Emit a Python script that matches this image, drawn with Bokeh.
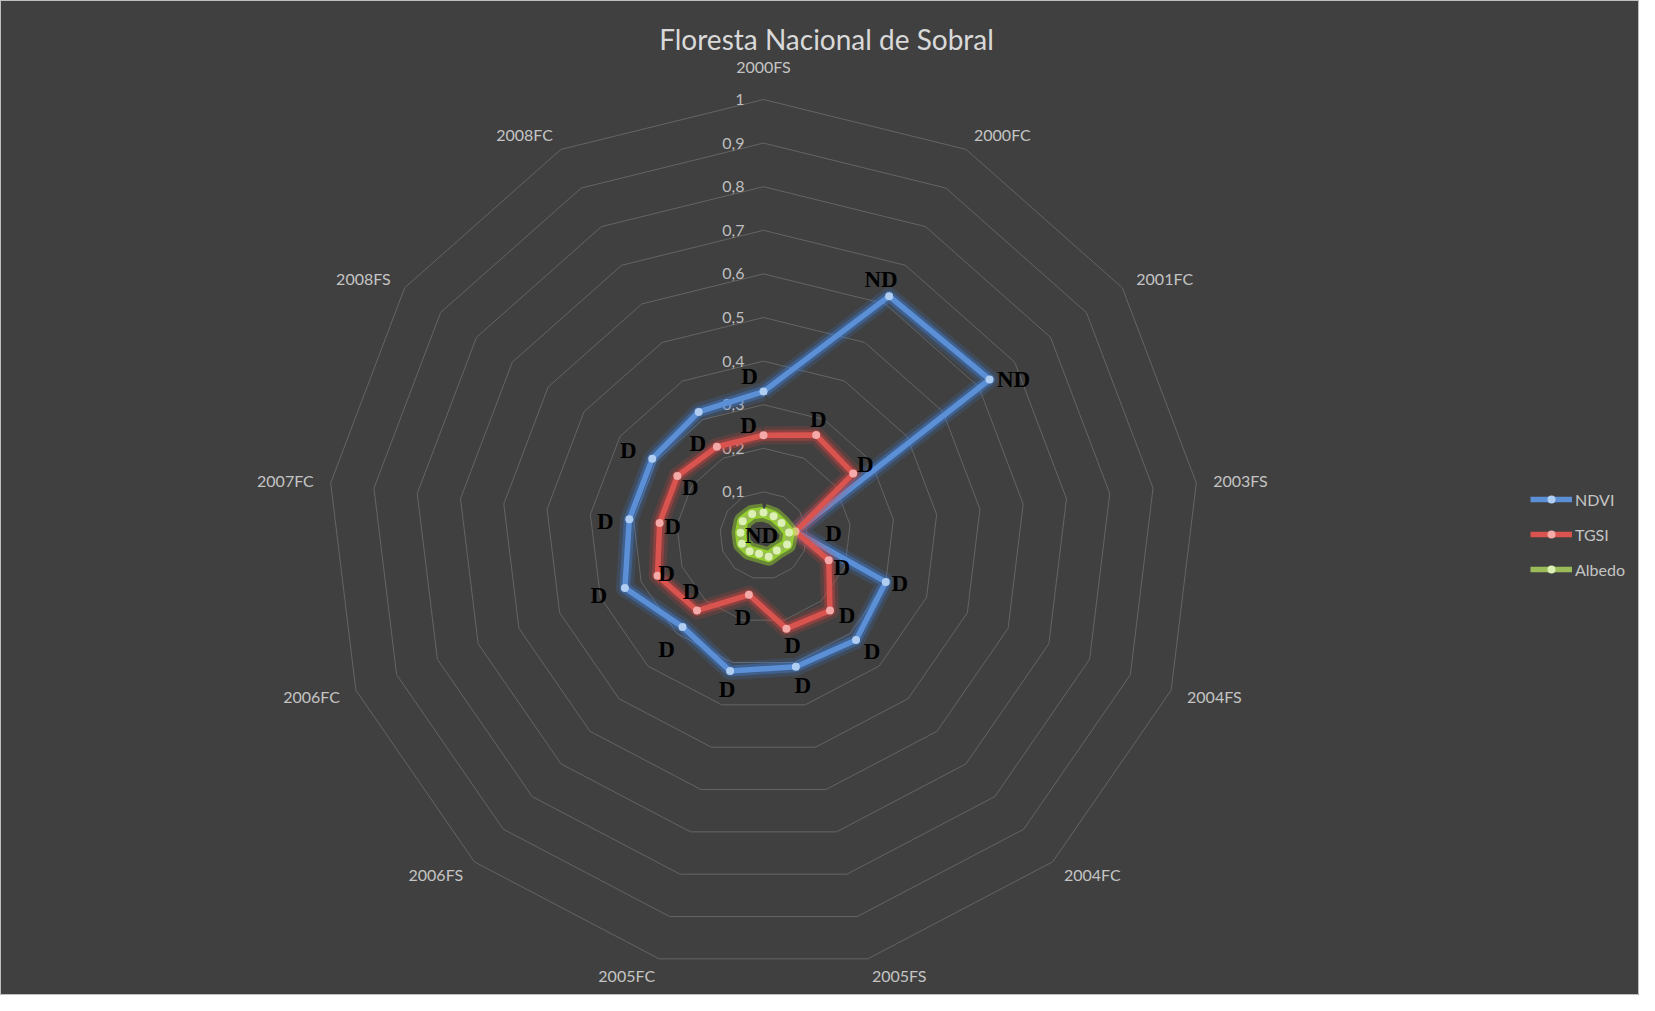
import numpy as np
from bokeh.plotting import figure
from bokeh.models import Range1d, ColumnDataSource, Label, Legend, LegendItem
from bokeh.embed import file_html
from bokeh.resources import INLINE
from bokeh.core.properties import value

# ---------------- data ----------------
categories = ["2000FS", "2000FC", "2001FC", "2003FS", "2004FS", "2004FC", "2005FS",
              "2005FC", "2006FS", "2006FC", "2007FC", "2008FS", "2008FC"]
ndvi = [0.33, 0.62, 0.63, 0.074, 0.30, 0.32, 0.31, 0.32, 0.28, 0.34, 0.31, 0.31, 0.32]
tgsi = [0.23, 0.26, 0.25, 0.074, 0.16, 0.23, 0.22, 0.14, 0.23, 0.26, 0.24, 0.24, 0.23]
albedo = [0.053, 0.050, 0.050, 0.059, 0.058, 0.046, 0.050, 0.043, 0.048, 0.053, 0.053, 0.058, 0.056]
ndvi_labels = ["D", "ND", "ND", "", "D", "D", "D", "D", "D", "D", "D", "D", ""]
tgsi_labels = ["D", "D", "D", "D", "D", "D", "D", "D", "D", "D", "D", "D", "D"]
albedo_labels = ["ND", "", "", "", "", "", "", "", "", "", "", "", ""]
tick_values = [0.1, 0.2, 0.3, 0.4, 0.5, 0.6, 0.7, 0.8, 0.9, 1.0]
tick_labels = ["0,1", "0,2", "0,3", "0,4", "0,5", "0,6", "0,7", "0,8", "0,9", "1"]
series_names = ["NDVI", "TGSI", "Albedo"]

# ---------------- layout / style ----------------
W, H = 1639, 995
CX, CY = 763, 535          # centre in figure pixels (from top-left)
S = 436.0                  # pixels per unit of value
BG = "#404040"
GRID = "#646464"

# label offsets (screen px) for the data labels, per point
ndvi_dx = [-14, -8, 24, 0, 14, 16, 7, -3, -16, -26, -24, -24, 0]
ndvi_dy = [-15, -17, 0, 0, 2, 12, 19, 19, 23, 7, 2, -8, 0]
tgsi_dx = [-15, 2, 12, 38, 13, 17, 6, -6, -6, 9, 13, 13, -19]
tgsi_dy = [-10, -16, -9, 2, 7, 5, 17, 23, -19, -2, 4, 11, -3]
albedo_dx = [-2] + [0] * 12
albedo_dy = [23] + [0] * 12

n = len(categories)
theta = np.arange(n) * 2 * np.pi / n

p = figure(width=W, height=H, output_backend="svg", toolbar_location=None,
           x_range=Range1d(-CX / S, (W - CX) / S),
           y_range=Range1d(-(H - CY) / S, CY / S),
           min_border=0, background_fill_color=BG, border_fill_color=BG)
p.axis.visible = False
p.grid.visible = False
p.outline_line_color = "#bfbfbf"
p.outline_line_width = 1

# grid polygons
gx = [list(t * np.sin(theta)) + [t * np.sin(theta[0])] for t in tick_values]
gy = [list(t * np.cos(theta)) + [t * np.cos(theta[0])] for t in tick_values]
p.multi_line(gx, gy, line_color=GRID, line_width=1)

# value axis tick labels
p.text(x=[0] * len(tick_values), y=tick_values, text=tick_labels,
       x_offset=-19, text_align="right", text_baseline="middle",
       text_font=value("Lato"), text_font_size="16px", text_color="#bdbdbd")

# category labels
sx, cy_ = np.sin(theta), np.cos(theta)
gap = np.where(cy_ > 0.95, 24.0, 17.0)
lr = 1.0 + gap / S
aligns = ["left" if s > 0.15 else ("right" if s < -0.15 else "center") for s in sx]
baselines = ["bottom" if c > 0.95 else "middle" for c in cy_]
cat_src = ColumnDataSource(dict(x=lr * sx, y=lr * cy_, text=categories,
                                align=aligns, base=baselines))
p.text(x="x", y="y", text="text", text_align="align", text_baseline="base",
       source=cat_src, text_font=value("Lato"), text_font_size="16px",
       text_color="#c4c4c4")

styles = [
    dict(vals=ndvi, color="#5b8fd6", glow="#3f86ea", marker="#b0cdf2", ga=(0.16, 0.35),
         labels=ndvi_labels, dx=ndvi_dx, dy=ndvi_dy),
    dict(vals=tgsi, color="#d9534f", glow="#e6443f", marker="#f4aaa8", ga=(0.16, 0.35),
         labels=tgsi_labels, dx=tgsi_dx, dy=tgsi_dy),
    dict(vals=albedo, color="#9bbb59", glow="#a6ee2c", marker="#dcefb4", ga=(0.4, 0.7),
         labels=albedo_labels, dx=albedo_dx, dy=albedo_dy),
]

legend_items = []
label_sources = []
for name, st in zip(series_names, styles):
    v = np.array(st["vals"])
    x = v * np.sin(theta)
    y = v * np.cos(theta)
    xc = np.append(x, x[0])
    yc = np.append(y, y[0])
    p.line(xc, yc, line_color=st["glow"], line_width=18, line_alpha=st["ga"][0], line_join="round")
    p.line(xc, yc, line_color=st["glow"], line_width=11, line_alpha=st["ga"][1], line_join="round")
    lr_ = p.line(xc, yc, line_color=st["color"], line_width=5.5, line_join="round")
    mr = p.scatter(x, y, size=8, fill_color=st["marker"], line_color=None)
    legend_items.append(LegendItem(label=name, renderers=[lr_, mr]))
    label_sources.append(ColumnDataSource(dict(x=x, y=y, text=st["labels"],
                                               dx=st["dx"], dy=st["dy"])))

for src in label_sources:
    p.text(x="x", y="y", text="text", x_offset="dx", y_offset="dy", source=src,
           text_align="center", text_baseline="middle",
           text_font=value("Liberation Serif"), text_font_style="bold",
           text_font_size="23px", text_color="#000000")

legend = Legend(items=legend_items, location=(1530, 416), orientation="vertical",
                background_fill_alpha=0, border_line_alpha=0,
                label_text_color="#c4c4c4", label_text_font="Lato",
                label_text_font_size="16px", glyph_width=42, glyph_height=20,
                label_height=20, spacing=15, padding=0, margin=0, label_standoff=3)
p.add_layout(legend)

title = Label(x=826, y=H - 38, x_units="screen", y_units="screen",
              text="Floresta Nacional de Sobral", text_align="center",
              text_baseline="middle", text_font="Lato", text_font_size="28px",
              text_color="#d9d9d9")
p.add_layout(title)

open("out.html", "w").write(file_html(p, INLINE))
